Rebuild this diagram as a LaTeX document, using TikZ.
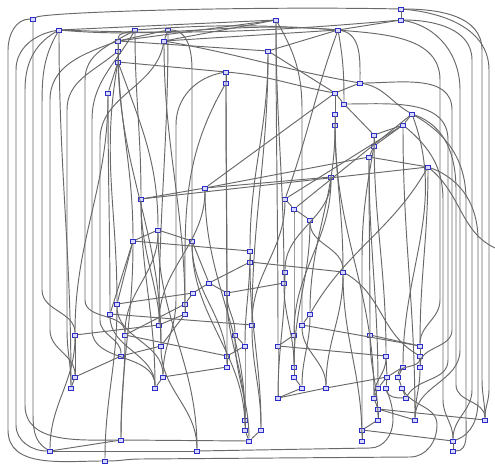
\documentclass[tikz,border=0pt]{standalone}
\definecolor{vxblue}{RGB}{45,45,200}
\definecolor{vxfill}{RGB}{215,215,255}
\definecolor{linkgray}{RGB}{105,105,105}
\tikzset{
  vx/.style={draw=vxblue, fill=vxfill, rectangle, line width=0.8pt, inner sep=0pt, minimum width=5pt, minimum height=4pt},
  link/.style={draw=linkgray, line width=0.95pt},
  vbend/.style={out=-90, in=90}
}
\begin{document}
\begin{tikzpicture}[x=1pt, y=-1pt]
	\useasboundingbox (0,0) rectangle (495,463);
	
	% vertices, top to bottom
	\node[vx] (v1) at (401,9) {};
	\node[vx] (v2) at (33,19) {};
	\node[vx] (v3) at (276,20) {};
	\node[vx] (v4) at (401,20) {};
	\node[vx] (v5) at (59,30) {};
	\node[vx] (v6) at (135,30) {};
	\node[vx] (v7) at (168,30) {};
	\node[vx] (v8) at (338,30) {};
	\node[vx] (v9) at (118,41) {};
	\node[vx] (v10) at (164,41) {};
	\node[vx] (v11) at (118,51) {};
	\node[vx] (v12) at (268,51) {};
	\node[vx] (v13) at (118,62) {};
	\node[vx] (v14) at (226,72) {};
	\node[vx] (v15) at (226,83) {};
	\node[vx] (v16) at (360,83) {};
	\node[vx] (v17) at (108,93) {};
	\node[vx] (v18) at (335,93) {};
	\node[vx] (v19) at (344,104) {};
	\node[vx] (v20) at (335,114) {};
	\node[vx] (v21) at (412,114) {};
	\node[vx] (v22) at (335,125) {};
	\node[vx] (v23) at (403,125) {};
	\node[vx] (v24) at (374,135) {};
	\node[vx] (v25) at (374,146) {};
	\node[vx] (v26) at (369,157) {};
	\node[vx] (v27) at (428,167) {};
	\node[vx] (v28) at (331,177) {};
	\node[vx] (v29) at (205,188) {};
	\node[vx] (v30) at (141,199) {};
	\node[vx] (v31) at (285,199) {};
	\node[vx] (v32) at (294,209) {};
	\node[vx] (v33) at (310,220) {};
	\node[vx] (v34) at (158,230) {};
	\node[vx] (v35) at (133,241) {};
	\node[vx] (v36) at (192,241) {};
	\node[vx] (v37) at (250,251) {};
	\node[vx] (v38) at (250,262) {};
	\node[vx] (v39) at (285,272) {};
	\node[vx] (v40) at (343,272) {};
	\node[vx] (v41) at (209,283) {};
	\node[vx] (v42) at (284,283) {};
	\node[vx] (v43) at (193,293) {};
	\node[vx] (v44) at (227,293) {};
	\node[vx] (v45) at (117,304) {};
	\node[vx] (v46) at (185,304) {};
	\node[vx] (v47) at (110,314) {};
	\node[vx] (v48) at (185,314) {};
	\node[vx] (v49) at (310,314) {};
	\node[vx] (v50) at (159,325) {};
	\node[vx] (v51) at (252,325) {};
	\node[vx] (v52) at (302,325) {};
	\node[vx] (v53) at (75,335) {};
	\node[vx] (v54) at (125,335) {};
	\node[vx] (v55) at (235,335) {};
	\node[vx] (v56) at (294,335) {};
	\node[vx] (v57) at (370,335) {};
	\node[vx] (v58) at (161,346) {};
	\node[vx] (v59) at (245,346) {};
	\node[vx] (v60) at (278,346) {};
	\node[vx] (v61) at (420,346) {};
	\node[vx] (v62) at (121,356) {};
	\node[vx] (v63) at (227,356) {};
	\node[vx] (v64) at (386,356) {};
	\node[vx] (v65) at (420,356) {};
	\node[vx] (v66) at (227,367) {};
	\node[vx] (v67) at (294,367) {};
	\node[vx] (v68) at (403,367) {};
	\node[vx] (v69) at (420,367) {};
	\node[vx] (v70) at (75,377) {};
	\node[vx] (v71) at (163,377) {};
	\node[vx] (v72) at (294,377) {};
	\node[vx] (v73) at (387,377) {};
	\node[vx] (v74) at (398,377) {};
	\node[vx] (v75) at (71,388) {};
	\node[vx] (v76) at (155,388) {};
	\node[vx] (v77) at (302,388) {};
	\node[vx] (v78) at (326,388) {};
	\node[vx] (v79) at (378,388) {};
	\node[vx] (v80) at (386,388) {};
	\node[vx] (v81) at (402,388) {};
	\node[vx] (v82) at (278,398) {};
	\node[vx] (v83) at (374,398) {};
	\node[vx] (v84) at (406,398) {};
	\node[vx] (v85) at (378,409) {};
	\node[vx] (v86) at (245,420) {};
	\node[vx] (v87) at (378,420) {};
	\node[vx] (v88) at (415,420) {};
	\node[vx] (v89) at (485,420) {};
	\node[vx] (v90) at (245,430) {};
	\node[vx] (v91) at (261,430) {};
	\node[vx] (v92) at (362,430) {};
	\node[vx] (v93) at (121,440) {};
	\node[vx] (v94) at (249,441) {};
	\node[vx] (v95) at (362,441) {};
	\node[vx] (v96) at (453,441) {};
	\node[vx] (v97) at (50,451) {};
	\node[vx] (v98) at (197,451) {};
	\node[vx] (v99) at (453,451) {};
	\node[vx] (v100) at (105,461) {};
	\coordinate (rimR) at (500,250);
	
	\begin{scope}[on background layer/.try]
	% long routes round the border
	\draw[link] (v2) .. controls (45,12) and (250,6) .. (v1);
	\draw[link] (v1) to[out=0,in=90] (482,50) -- (482,380) to[vbend] (v89);
	\draw[link] (v1) to[out=-5,in=90] (489,70) -- (489,390) to[vbend] (v89);
	\draw[link] (v4) to[out=0,in=90] (472,60) -- (472,390) to[vbend] (v96);
	\draw[link] (v4) to[out=-10,in=90] (460,90) -- (460,350) to[vbend] (v88);
	\draw[link] (v16) to[out=0,in=90] (452,110) -- (452,330) to[vbend] (v69);
	\draw[link] (v21) to[out=-30,in=90] (466,200) -- (466,420) to[out=-90,in=0] (v99);
	\draw[link] (v21) to[out=-20,in=90] (456,190) -- (456,385) to[vbend] (v89);
	\draw[link] (v23) to[out=-40,in=90] (443,200) -- (443,400) to[vbend] (v96);
	\draw[link] (v27) to[out=-20,in=90] (478,240) -- (478,400) to[out=-90,in=20] (v96);
	\draw[link] (v27) to[out=-40,in=160] (rimR);
	\draw[link] (v2) to[out=180,in=90] (8,50) -- (8,430) to[out=-90,in=180] (v100);
	\draw[link] (v2) -- (33,410) to[out=-90,in=150] (v97);
	\draw[link] (v5) to[out=190,in=90] (16,70) -- (16,425) to[out=-90,in=180] (v97);
	\draw[link] (v5) to[out=-150,in=90] (25,90) -- (25,405) to[out=-90,in=180] (v93);
	\draw[link] (v5) to[out=-120,in=90] (42,110) -- (42,290) to[vbend] (v53);
	\draw[link] (v6) to[out=-150,in=90] (85,80) -- (85,300) to[vbend] (v54);
	\draw[link] (v6) to[out=-120,in=90] (92,120) -- (92,330) to[vbend] (v76);
	\draw[link] (v7) to[out=0,in=90] (192,70) -- (192,200) to[vbend] (v36);
	\draw[link] (v14) to[out=190,in=90] (176,125) -- (176,300) to[vbend] (v71);
	\draw[link] (v3) to[out=-60,in=90] (302,110) -- (302,270) to[vbend] (v52);
	\draw[link] (v8) to[out=-5,in=90] (440,80) -- (440,300) to[vbend] (v61);
	\draw[link] (v9) to[out=-160,in=90] (50,100) -- (50,330) to[vbend] (v70);
	\draw[link] (v10) to[out=-100,in=90] (100,140) -- (100,320) to[vbend] (v62);
	\draw[link] (v11) to[out=-140,in=90] (67,110) -- (67,330) to[vbend] (v75);
	\draw[link] (v19) to[out=0,in=90] (448,140) -- (448,360) to[out=-90,in=60] (v84);
	\draw[link] (v25) to[out=-100,in=90] (362,260) -- (362,400) to[vbend] (v92);
	\draw[link] (v81) to[out=-60,in=90] (437,425) to[out=-90,in=0] (410,457) -- (140,459) to[out=180,in=0] (v100);
	\draw[link] (v80) to[out=-70,in=90] (393,420) to[out=-90,in=0] (370,448) -- (v98);
	
	% top part
	\draw[link] (v1) -- (v4);
	\draw[link] (v4) -- (v8);
	\draw[link] (v5) to[out=-2,in=185] (v4);
	\draw[link] (v5) to[vbend] (v75);
	\draw[link] (v5) to[out=-5,in=175] (v8);
	\draw[link] (v5) -- (v3);
	\draw[link] (v6) to[vbend] (v30);
	\draw[link] (v6) to[out=200,in=90] (v9);
	\draw[link] (v7) -- (v9);
	\draw[link] (v7) -- (v10);
	\draw[link] (v7) to[vbend] (v50);
	\draw[link] (v3) to[vbend] (v60);
	\draw[link] (v3) to[vbend] (v42);
	\draw[link] (v3) -- (v9);
	\draw[link] (v3) -- (v10);
	\draw[link] (v8) to[out=-10,in=90] (v16);
	\draw[link] (v8) to[out=-80,in=90] (v19);
	\draw[link] (v8) to[out=-110,in=70] (v31);
	\draw[link] (v8) to[bend right=4] (v6);
	\draw[link] (v8) -- (v10);
	\draw[link] (v8) -- (v12);
	\draw[link] (v9) -- (v11);
	\draw[link] (v11) -- (v13);
	\draw[link] (v9) -- (v12);
	\draw[link] (v9) to[vbend] (v35);
	\draw[link] (v10) to[out=-10,in=170] (v16);
	\draw[link] (v10) to[vbend] (v48);
	\draw[link] (v11) to[vbend] (v58);
	\draw[link] (v13) -- (v14);
	\draw[link] (v14) -- (v15);
	\draw[link] (v13) -- (v17);
	\draw[link] (v13) to[out=-70,in=90] (v34);
	\draw[link] (v13) to[out=-100,in=90] (v45);
	\draw[link] (v14) to[out=-5,in=170] (v18);
	\draw[link] (v14) to[vbend] (v63);
	\draw[link] (v15) to[vbend] (v44);
	\draw[link] (v15) to[out=-120,in=90] (v46);
	\draw[link] (v12) -- (v18);
	\draw[link] (v12) to[vbend] (v37);
	\draw[link] (v12) to[vbend] (v51);
	\draw[link] (v16) -- (v18);
	\draw[link] (v16) to[out=-10,in=150] (v21);
	\draw[link] (v17) to[vbend] (v47);
	\draw[link] (v17) to[vbend] (v53);
	\draw[link] (v18) -- (v19);
	\draw[link] (v18) -- (v20);
	\draw[link] (v20) -- (v22);
	\draw[link] (v20) to[vbend] (v40);
	\draw[link] (v19) -- (v24);
	\draw[link] (v21) -- (v23);
	\draw[link] (v23) -- (v24);
	\draw[link] (v23) -- (v25);
	\draw[link] (v23) to[vbend] (v88);
	\draw[link] (v24) -- (v25);
	\draw[link] (v24) to[vbend] (v64);
	\draw[link] (v25) -- (v26);
	\draw[link] (v26) -- (v27);
	\draw[link] (v26) -- (v29);
	\draw[link] (v26) to[vbend] (v79);
	\draw[link] (v30) -- (v27);
	\draw[link] (v28) -- (v29);
	\draw[link] (v28) to[vbend] (v39);
	\draw[link] (v28) to[vbend] (v56);
	\draw[link] (v29) -- (v30);
	\draw[link] (v29) to[vbend] (v86);
	\draw[link] (v29) -- (v18);
	\draw[link] (v31) -- (v32);
	\draw[link] (v32) -- (v33);
	\draw[link] (v23) -- (v31);
	\draw[link] (v21) -- (v32);
	\draw[link] (v21) to[out=-70,in=90] (v68);
	\draw[link] (v22) to[vbend] (v83);
	\draw[link] (v22) to[vbend] (v49);
	\draw[link] (v26) to[vbend] (v57);
	\draw[link] (v27) to[vbend] (v61);
	\draw[link] (v27) to[out=-120,in=60] (v49);
	
	% middle part
	\draw[link] (v33) to[vbend] (v40);
	\draw[link] (v33) to[vbend] (v67);
	\draw[link] (v32) to[vbend] (v56);
	\draw[link] (v30) to[vbend] (v58);
	\draw[link] (v30) to[vbend] (v76);
	\draw[link] (v29) to[vbend] (v50);
	\draw[link] (v31) to[vbend] (v51);
	\draw[link] (v34) -- (v35);
	\draw[link] (v34) -- (v36);
	\draw[link] (v34) to[vbend] (v54);
	\draw[link] (v34) to[vbend] (v98);
	\draw[link] (v35) -- (v37);
	\draw[link] (v35) to[vbend] (v93);
	\draw[link] (v35) -- (v45);
	\draw[link] (v35) -- (v47);
	\draw[link] (v36) -- (v41);
	\draw[link] (v36) to[vbend] (v66);
	\draw[link] (v36) to[vbend] (v90);
	\draw[link] (v37) -- (v38);
	\draw[link] (v37) to[vbend] (v59);
	\draw[link] (v38) -- (v40);
	\draw[link] (v38) -- (v41);
	\draw[link] (v38) to[vbend] (v91);
	\draw[link] (v39) -- (v42);
	\draw[link] (v39) to[vbend] (v82);
	\draw[link] (v40) to[out=-30,in=150] (v65);
	\draw[link] (v40) to[vbend] (v78);
	\draw[link] (v40) to[vbend] (v95);
	\draw[link] (v41) -- (v43);
	\draw[link] (v41) -- (v44);
	\draw[link] (v42) -- (v44);
	\draw[link] (v42) to[vbend] (v67);
	\draw[link] (v43) -- (v46);
	\draw[link] (v43) -- (v45);
	\draw[link] (v44) to[vbend] (v55);
	\draw[link] (v44) to[vbend] (v86);
	\draw[link] (v45) to[vbend] (v71);
	\draw[link] (v45) to[vbend] (v100);
	\draw[link] (v46) -- (v48);
	\draw[link] (v46) -- (v54);
	\draw[link] (v47) -- (v51);
	\draw[link] (v47) to[vbend] (v76);
	\draw[link] (v48) -- (v50);
	\draw[link] (v48) -- (v58);
	\draw[link] (v49) -- (v52);
	\draw[link] (v49) to[vbend] (v77);
	\draw[link] (v50) -- (v53);
	\draw[link] (v51) to[vbend] (v91);
	\draw[link] (v52) -- (v61);
	\draw[link] (v52) to[vbend] (v78);
	\draw[link] (v53) -- (v70);
	\draw[link] (v53) to[vbend] (v97);
	\draw[link] (v54) -- (v63);
	\draw[link] (v54) to[vbend] (v93);
	\draw[link] (v55) -- (v59);
	\draw[link] (v55) to[vbend] (v94);
	\draw[link] (v56) -- (v60);
	\draw[link] (v56) to[vbend] (v72);
	\draw[link] (v57) -- (v61);
	\draw[link] (v57) to[vbend] (v87);
	\draw[link] (v58) -- (v62);
	\draw[link] (v58) to[vbend] (v98);
	\draw[link] (v59) -- (v63);
	\draw[link] (v59) to[vbend] (v90);
	\draw[link] (v60) -- (v64);
	\draw[link] (v60) to[vbend] (v82);
	\draw[link] (v61) -- (v65);
	\draw[link] (v65) -- (v69);
	\draw[link] (v65) to[vbend] (v74);
	
	% bottom part
	\draw[link] (v62) -- (v70);
	\draw[link] (v63) -- (v66);
	\draw[link] (v64) -- (v73);
	\draw[link] (v64) to[vbend] (v83);
	\draw[link] (v66) -- (v71);
	\draw[link] (v67) -- (v72);
	\draw[link] (v68) -- (v73);
	\draw[link] (v68) -- (v74);
	\draw[link] (v69) to[vbend] (v88);
	\draw[link] (v70) -- (v75);
	\draw[link] (v71) -- (v76);
	\draw[link] (v72) -- (v77);
	\draw[link] (v73) -- (v78);
	\draw[link] (v73) -- (v79);
	\draw[link] (v73) -- (v80);
	\draw[link] (v74) -- (v81);
	\draw[link] (v77) -- (v82);
	\draw[link] (v78) -- (v82);
	\draw[link] (v79) -- (v83);
	\draw[link] (v81) -- (v84);
	\draw[link] (v80) to[out=-80,in=180] (v84);
	\draw[link] (v83) -- (v85);
	\draw[link] (v85) -- (v87);
	\draw[link] (v85) -- (v88);
	\draw[link] (v85) -- (v89);
	\draw[link] (v87) -- (v92);
	\draw[link] (v92) -- (v95);
	\draw[link] (v92) -- (v96);
	\draw[link] (v96) -- (v99);
	\draw[link] (v86) -- (v90);
	\draw[link] (v90) -- (v94);
	\draw[link] (v91) -- (v94);
	\draw[link] (v93) -- (v94);
	\draw[link] (v93) -- (v97);
	\draw[link] (v97) -- (v98);
	\end{scope}
	
\end{tikzpicture}
\end{document}
